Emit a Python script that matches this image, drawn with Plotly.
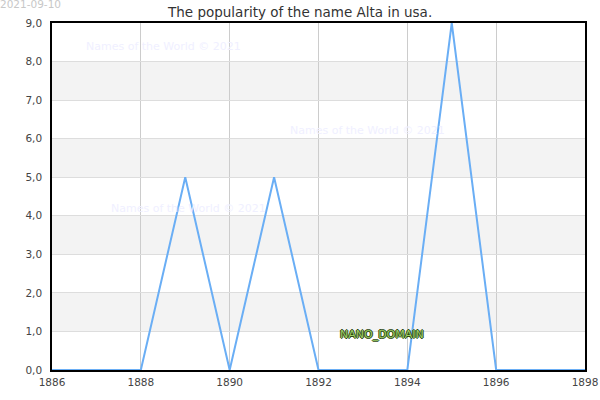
import plotly.graph_objects as go

years = [1886, 1887, 1888, 1889, 1890, 1891, 1892, 1893, 1894, 1895, 1896, 1897, 1898]
counts = [0, 0, 0, 5, 0, 5, 0, 0, 0, 9, 0, 0, 0]
x_ticks = [1886, 1888, 1890, 1892, 1894, 1896, 1898]
y_ticks = [0, 1, 2, 3, 4, 5, 6, 7, 8, 9]
bands = [(1, 2), (3, 4), (5, 6), (7, 8)]
title_text = "The popularity of the name Alta in usa."
date_text = "2021-09-10"
watermark = "Names of the World © 2021"

fig = go.Figure()
fig.add_trace(go.Scatter(x=years, y=counts, mode="lines",
                         line=dict(color="#6aaef5", width=2), hoverinfo="x+y"))

shapes = []
for lo, hi in bands:
    shapes.append(dict(type="rect", xref="paper", yref="y", x0=0, x1=1, y0=lo, y1=hi,
                       fillcolor="#f3f3f3", line=dict(width=0), layer="below"))

font = "DejaVu Sans, Verdana, sans-serif"
annotations = [
    dict(text=title_text, x=0.5, y=1, xref="paper", yref="paper", xanchor="center", yanchor="bottom",
         xshift=-19, yshift=1, showarrow=False, font=dict(size=13.5, color="#333", family=font)),
    dict(text=date_text, x=0, y=1, xref="paper", yref="paper", xanchor="left", yanchor="bottom",
         xshift=-54, yshift=11, showarrow=False, font=dict(size=10.5, color="#c8c8c8", family=font)),
    dict(text=watermark, x=1888.5, y=8.38, xref="x", yref="y", showarrow=False,
         font=dict(size=11, color="#f0f0ff", family=font)),
    dict(text=watermark, x=1889.08, y=4.2, xref="x", yref="y", showarrow=False,
         font=dict(size=11, color="#f0f0ff", family=font)),
    dict(text=watermark, x=1893.11, y=6.22, xref="x", yref="y", showarrow=False,
         font=dict(size=11, color="#f0f0ff", family=font)),
    dict(text="NANO_DOMAIN", x=1893.43, y=0.91, xref="x", yref="y", showarrow=False,
         font=dict(size=11, color="#9ccc65", family=font,
                   shadow="1px 0 0 #2e4a12, -1px 0 0 #2e4a12, 0 1px 0 #2e4a12, 0 -1px 0 #2e4a12")),
]

fig.update_layout(
    width=600, height=400,
    margin=dict(l=52, r=15, t=23, b=30, autoexpand=False),
    paper_bgcolor="white", plot_bgcolor="white",
    showlegend=False,
    separators=",.",
    shapes=shapes,
    annotations=annotations,
    font=dict(family=font, size=10, color="#444"),
    xaxis=dict(range=[1886, 1898], tickvals=x_ticks, ticktext=[str(v) for v in x_ticks],
               showgrid=True, gridcolor="#cccccc", gridwidth=1, automargin=False,
               showline=True, linecolor="black", linewidth=1.5, mirror=True,
               zeroline=False, ticks="", ticklabelstandoff=2,
               tickfont=dict(size=10.5, color="#444")),
    yaxis=dict(range=[0, 9], tickvals=y_ticks, tickformat=".1f", automargin=False,
               showgrid=True, gridcolor="#dddddd", gridwidth=1,
               showline=True, linecolor="black", linewidth=1.5, mirror=True,
               zeroline=False, ticks="", ticklabelstandoff=6,
               tickfont=dict(size=10.5, color="#444")),
)

fig.write_html("out.html", config={"displayModeBar": False},
               post_script="document.body.style.margin='0';")
